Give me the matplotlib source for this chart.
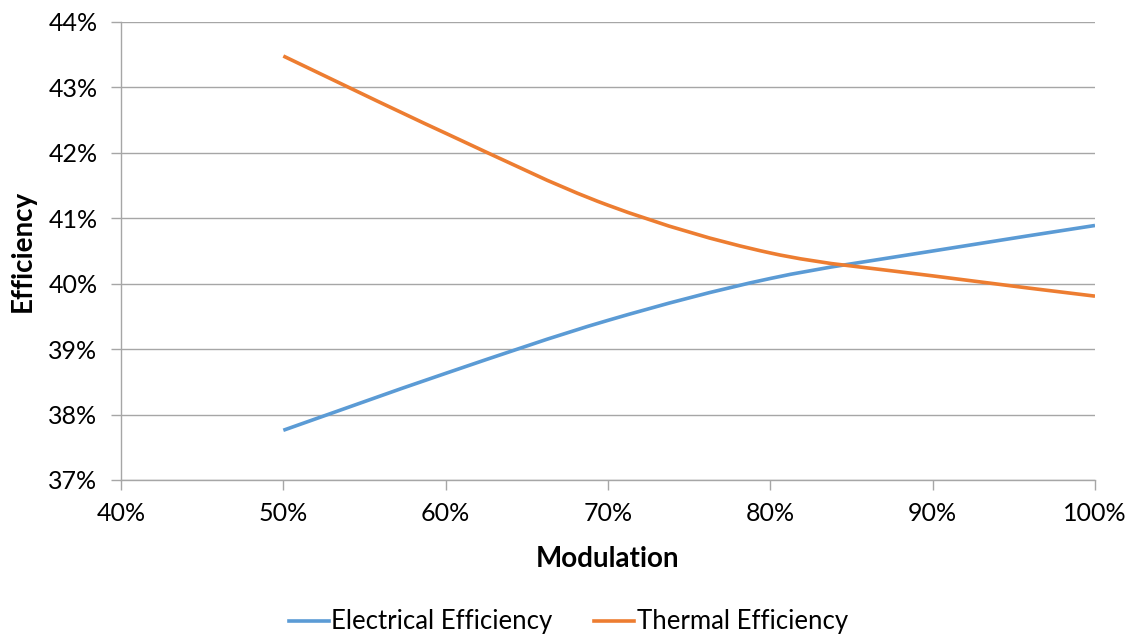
import matplotlib
matplotlib.use("Agg")
import matplotlib.pyplot as plt
from matplotlib.path import Path
from matplotlib.patches import PathPatch
from matplotlib.lines import Line2D
from matplotlib.ticker import FuncFormatter, MultipleLocator

modulation = [50, 60, 70, 80, 90, 100]
electrical = [37.76, 38.63, 39.44, 40.08, 40.50, 40.89]
thermal = [43.48, 42.30, 41.20, 40.47, 40.12, 39.81]
series_names = ["Electrical Efficiency", "Thermal Efficiency"]
colors = ["#5B9BD5", "#ED7D31"]

plt.rcParams['font.family'] = ['Lato', 'DejaVu Sans']

fig = plt.figure(figsize=(11.3, 6.37), dpi=100)
ax = fig.add_axes([121/1130, 1 - 480/637, (1095-121)/1130, (480-22)/637])


def smooth_path(xs, ys):
    pts = list(zip(xs, ys))
    n = len(pts)
    verts = [pts[0]]
    codes = [Path.MOVETO]
    for i in range(n - 1):
        p0 = pts[i - 1] if i > 0 else pts[i]
        p1 = pts[i]
        p2 = pts[i + 1]
        p3 = pts[i + 2] if i + 2 < n else pts[i + 1]
        c1 = (p1[0] + (p2[0] - p0[0]) / 6, p1[1] + (p2[1] - p0[1]) / 6)
        c2 = (p2[0] - (p3[0] - p1[0]) / 6, p2[1] - (p3[1] - p1[1]) / 6)
        verts += [c1, c2, p2]
        codes += [Path.CURVE4] * 3
    return Path(verts, codes)


for ys, c in zip([electrical, thermal], colors):
    patch = PathPatch(smooth_path(modulation, ys), facecolor='none', edgecolor=c,
                      lw=2.6, capstyle='butt', zorder=3)
    ax.add_patch(patch)

ax.set_xlim(40, 100)
ax.set_ylim(37, 44)
ax.xaxis.set_major_locator(MultipleLocator(10))
ax.yaxis.set_major_locator(MultipleLocator(1))
ax.xaxis.set_major_formatter(FuncFormatter(lambda v, p: f"{v:.0f}%"))
ax.yaxis.set_major_formatter(FuncFormatter(lambda v, p: f"{v:.0f}%"))

ax.grid(axis='y', color='#A6A6A6', lw=1.0)
ax.set_axisbelow(True)
for s in ['top', 'right']:
    ax.spines[s].set_visible(False)
for s in ['left', 'bottom']:
    ax.spines[s].set_color('#A6A6A6')
    ax.spines[s].set_linewidth(1.0)
ax.tick_params(axis='both', colors='#A6A6A6', labelcolor='black', labelsize=18,
               length=7, width=1.0, direction='out')
ax.tick_params(axis='x', pad=9)
ax.tick_params(axis='y', pad=10)

ax.set_xlabel("Modulation", fontsize=20, fontweight='bold', labelpad=15)
ax.set_ylabel("Efficiency", fontsize=20, fontweight='bold', labelpad=9)

handles = [Line2D([], [], color=c, lw=2.6) for c in colors]
fig.legend(handles, series_names, loc='center', bbox_to_anchor=(0.503, 1 - 622/637),
           ncol=2, frameon=False, fontsize=18.5, handlelength=1.56, handletextpad=0.1,
           columnspacing=1.63)

fig.savefig("out.png", dpi=100)
